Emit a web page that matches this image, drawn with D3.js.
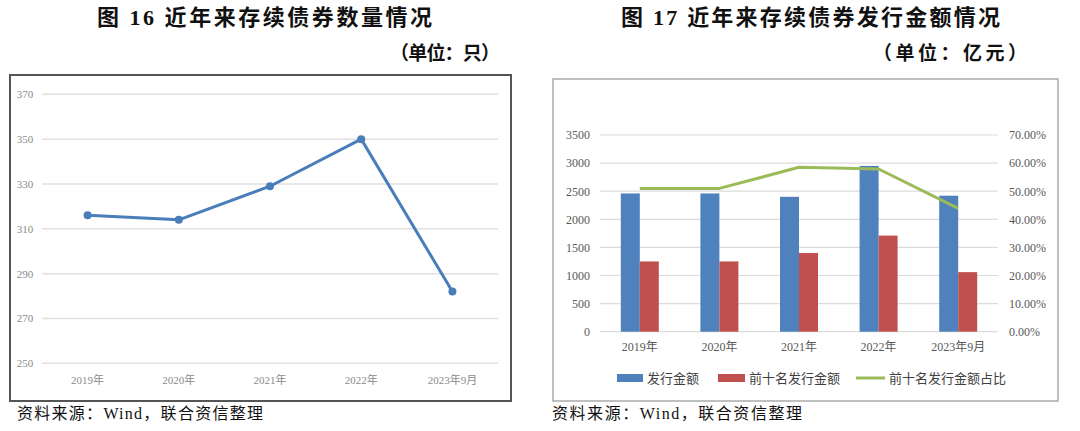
<!DOCTYPE html>
<html>
<head>
<meta charset="utf-8">
<script src="https://cdn.jsdelivr.net/npm/d3@7"></script>
<style>
  body { margin: 0; background: #fff; }
  svg text { font-family: "Liberation Serif", "Noto Sans CJK SC", serif; }
</style>
</head>
<body>
<svg id="canvas" width="1080" height="431"></svg>
<script>
// chart 16 data
var years = ["2019年", "2020年", "2021年", "2022年", "2023年9月"];
var bondCount = [316, 314, 329, 350, 282];
var countTicks = [250, 270, 290, 310, 330, 350, 370];

// chart 17 data
var issueAmount = [2460, 2460, 2400, 2950, 2420];
var top10Amount = [1250, 1250, 1400, 1710, 1060];
var top10Share = [0.510, 0.510, 0.585, 0.579, 0.439];
var amountTicks = [0, 500, 1000, 1500, 2000, 2500, 3000, 3500];
var shareTicks = [0, 0.1, 0.2, 0.3, 0.4, 0.5, 0.6, 0.7];
var legendNames = ["发行金额", "前十名发行金额", "前十名发行金额占比"];

var canvas = d3.select("#canvas");
var cjk = "'Liberation Serif', 'Noto Sans CJK SC', serif";

// ---------- titles ----------
function title(x0, x1, num, rest) {
  var t = canvas.append("text")
    .attr("x", x0).attr("y", 25)
    .attr("font-size", 22)
    .attr("font-weight", "bold")
    .attr("fill", "#111")
    .attr("textLength", x1 - x0)
    .attr("lengthAdjust", "spacing");
  t.append("tspan").text("图 ");
  t.append("tspan").attr("font-family", "'Liberation Serif', serif").text(num);
  t.append("tspan").text("  " + rest);
}
title(97, 432, "16", "近年来存续债券数量情况");
title(621, 1000, "17", "近年来存续债券发行金额情况");

canvas.append("text").attr("x", 390).attr("y", 60)
  .attr("textLength", 110).attr("lengthAdjust", "spacing")
  .attr("font-size", 19).attr("font-weight", "bold").attr("fill", "#111").text("（单位：只）");
canvas.append("text").attr("x", 873).attr("y", 60)
  .attr("textLength", 154).attr("lengthAdjust", "spacing")
  .attr("font-size", 19).attr("font-weight", "bold").attr("fill", "#111").text("（单位：亿元）");

// source notes
canvas.append("text").attr("x", 17).attr("y", 419).attr("font-size", 16).attr("fill", "#111")
  .attr("textLength", 246).attr("lengthAdjust", "spacing")
  .text("资料来源：Wind，联合资信整理");
canvas.append("text").attr("x", 552).attr("y", 419).attr("font-size", 16).attr("fill", "#111")
  .attr("textLength", 250).attr("lengthAdjust", "spacing")
  .text("资料来源：Wind，联合资信整理");

// ---------- chart 16: line ----------
canvas.append("rect").attr("x", 10).attr("y", 75).attr("width", 501).attr("height", 326)
  .attr("fill", "none").attr("stroke", "#555").attr("stroke-width", 2);

var x1 = d3.scaleBand().domain(years).range([42, 498]);
var y1 = d3.scaleLinear().domain([250, 370]).range([363.3, 94.3]);

var g1 = canvas.append("g");
g1.selectAll(".grid1").data(countTicks).enter().append("line")
  .attr("x1", 42).attr("x2", 498)
  .attr("y1", function(d) { return y1(d); })
  .attr("y2", function(d) { return y1(d); })
  .attr("stroke", "#e0e0e0").attr("stroke-width", 1.5);

var yAxis1 = g1.append("g")
  .attr("transform", "translate(35,0)")
  .call(d3.axisLeft(y1).tickValues(countTicks).tickSize(0).tickPadding(0));
yAxis1.select(".domain").remove();
yAxis1.selectAll("text").attr("font-size", 11).attr("fill", "#8a8a8a")
  .attr("font-family", "'Liberation Serif', serif").attr("text-anchor", "middle").attr("x", -10);

var xAxis1 = g1.append("g")
  .attr("transform", "translate(0,376)")
  .call(d3.axisBottom(x1).tickSize(0).tickPadding(0));
xAxis1.select(".domain").remove();
xAxis1.selectAll("text").attr("font-size", 11).attr("fill", "#8a8a8a").attr("font-family", cjk);

var line1 = d3.line()
  .x(function(d, i) { return x1(years[i]) + x1.bandwidth() / 2; })
  .y(function(d) { return y1(d); });
g1.append("path").datum(bondCount).attr("d", line1)
  .attr("fill", "none").attr("stroke", "#4a7ebb").attr("stroke-width", 3).attr("stroke-linejoin", "round");
g1.selectAll(".dot1").data(bondCount).enter().append("circle")
  .attr("cx", function(d, i) { return x1(years[i]) + x1.bandwidth() / 2; })
  .attr("cy", function(d) { return y1(d); })
  .attr("r", 4).attr("fill", "#4a7ebb");

// ---------- chart 17: bars + line ----------
canvas.append("rect").attr("x", 553).attr("y", 79).attr("width", 505).attr("height", 322)
  .attr("fill", "none").attr("stroke", "#aaa").attr("stroke-width", 1.5);

var x2 = d3.scaleBand().domain(years).range([600, 998]);
var y2 = d3.scaleLinear().domain([0, 3500]).range([331.7, 135]);
var y2r = d3.scaleLinear().domain([0, 0.7]).range([331.7, 135]);
var barW = 19;

var g2 = canvas.append("g");
g2.selectAll(".grid2").data(amountTicks).enter().append("line")
  .attr("x1", 600).attr("x2", 998)
  .attr("y1", function(d) { return y2(d); })
  .attr("y2", function(d) { return y2(d); })
  .attr("stroke", "#dcdcdc").attr("stroke-width", 1.2);

var yAxis2 = g2.append("g").attr("transform", "translate(590,0)")
  .call(d3.axisLeft(y2).tickValues(amountTicks).tickSize(0).tickPadding(0).tickFormat(d3.format("d")));
yAxis2.select(".domain").remove();
yAxis2.selectAll("text").attr("font-size", 12).attr("fill", "#595959").attr("font-family", "'Liberation Serif', serif");

var yAxis2r = g2.append("g").attr("transform", "translate(1009,0)")
  .call(d3.axisRight(y2r).tickValues(shareTicks).tickSize(0).tickPadding(0).tickFormat(d3.format(".2%")));
yAxis2r.select(".domain").remove();
yAxis2r.selectAll("text").attr("font-size", 12).attr("fill", "#595959").attr("font-family", "'Liberation Serif', serif");

var xAxis2 = g2.append("g").attr("transform", "translate(0,342)")
  .call(d3.axisBottom(x2).tickSize(0).tickPadding(0));
xAxis2.select(".domain").remove();
xAxis2.selectAll("text").attr("font-size", 12).attr("fill", "#595959").attr("font-family", cjk);

g2.selectAll(".barBlue").data(issueAmount).enter().append("rect")
  .attr("x", function(d, i) { return x2(years[i]) + x2.bandwidth() / 2 - barW; })
  .attr("y", function(d) { return y2(d); })
  .attr("width", barW)
  .attr("height", function(d) { return y2(0) - y2(d); })
  .attr("fill", "#4f81bd");

g2.selectAll(".barRed").data(top10Amount).enter().append("rect")
  .attr("x", function(d, i) { return x2(years[i]) + x2.bandwidth() / 2; })
  .attr("y", function(d) { return y2(d); })
  .attr("width", barW)
  .attr("height", function(d) { return y2(0) - y2(d); })
  .attr("fill", "#c0504d");

var line2 = d3.line()
  .x(function(d, i) { return x2(years[i]) + x2.bandwidth() / 2; })
  .y(function(d) { return y2r(d); });
g2.append("path").datum(top10Share).attr("d", line2)
  .attr("fill", "none").attr("stroke", "#9bbb59").attr("stroke-width", 3).attr("stroke-linejoin", "round");

// legend
var legend = g2.append("g").attr("transform", "translate(0,378)");
legend.append("rect").attr("x", 617).attr("y", -4).attr("width", 26).attr("height", 8).attr("fill", "#4f81bd");
legend.append("rect").attr("x", 718).attr("y", -4).attr("width", 27).attr("height", 8).attr("fill", "#c0504d");
legend.append("line").attr("x1", 856).attr("x2", 885).attr("y1", 0).attr("y2", 0)
  .attr("stroke", "#9bbb59").attr("stroke-width", 3);
var legendX = [647, 749, 889];
legend.selectAll(".lt").data(legendNames).enter().append("text")
  .attr("x", function(d, i) { return legendX[i]; })
  .attr("y", 5)
  .attr("font-size", 13)
  .attr("fill", "#404040")
  .text(function(d) { return d; });
</script>
</body>
</html>
